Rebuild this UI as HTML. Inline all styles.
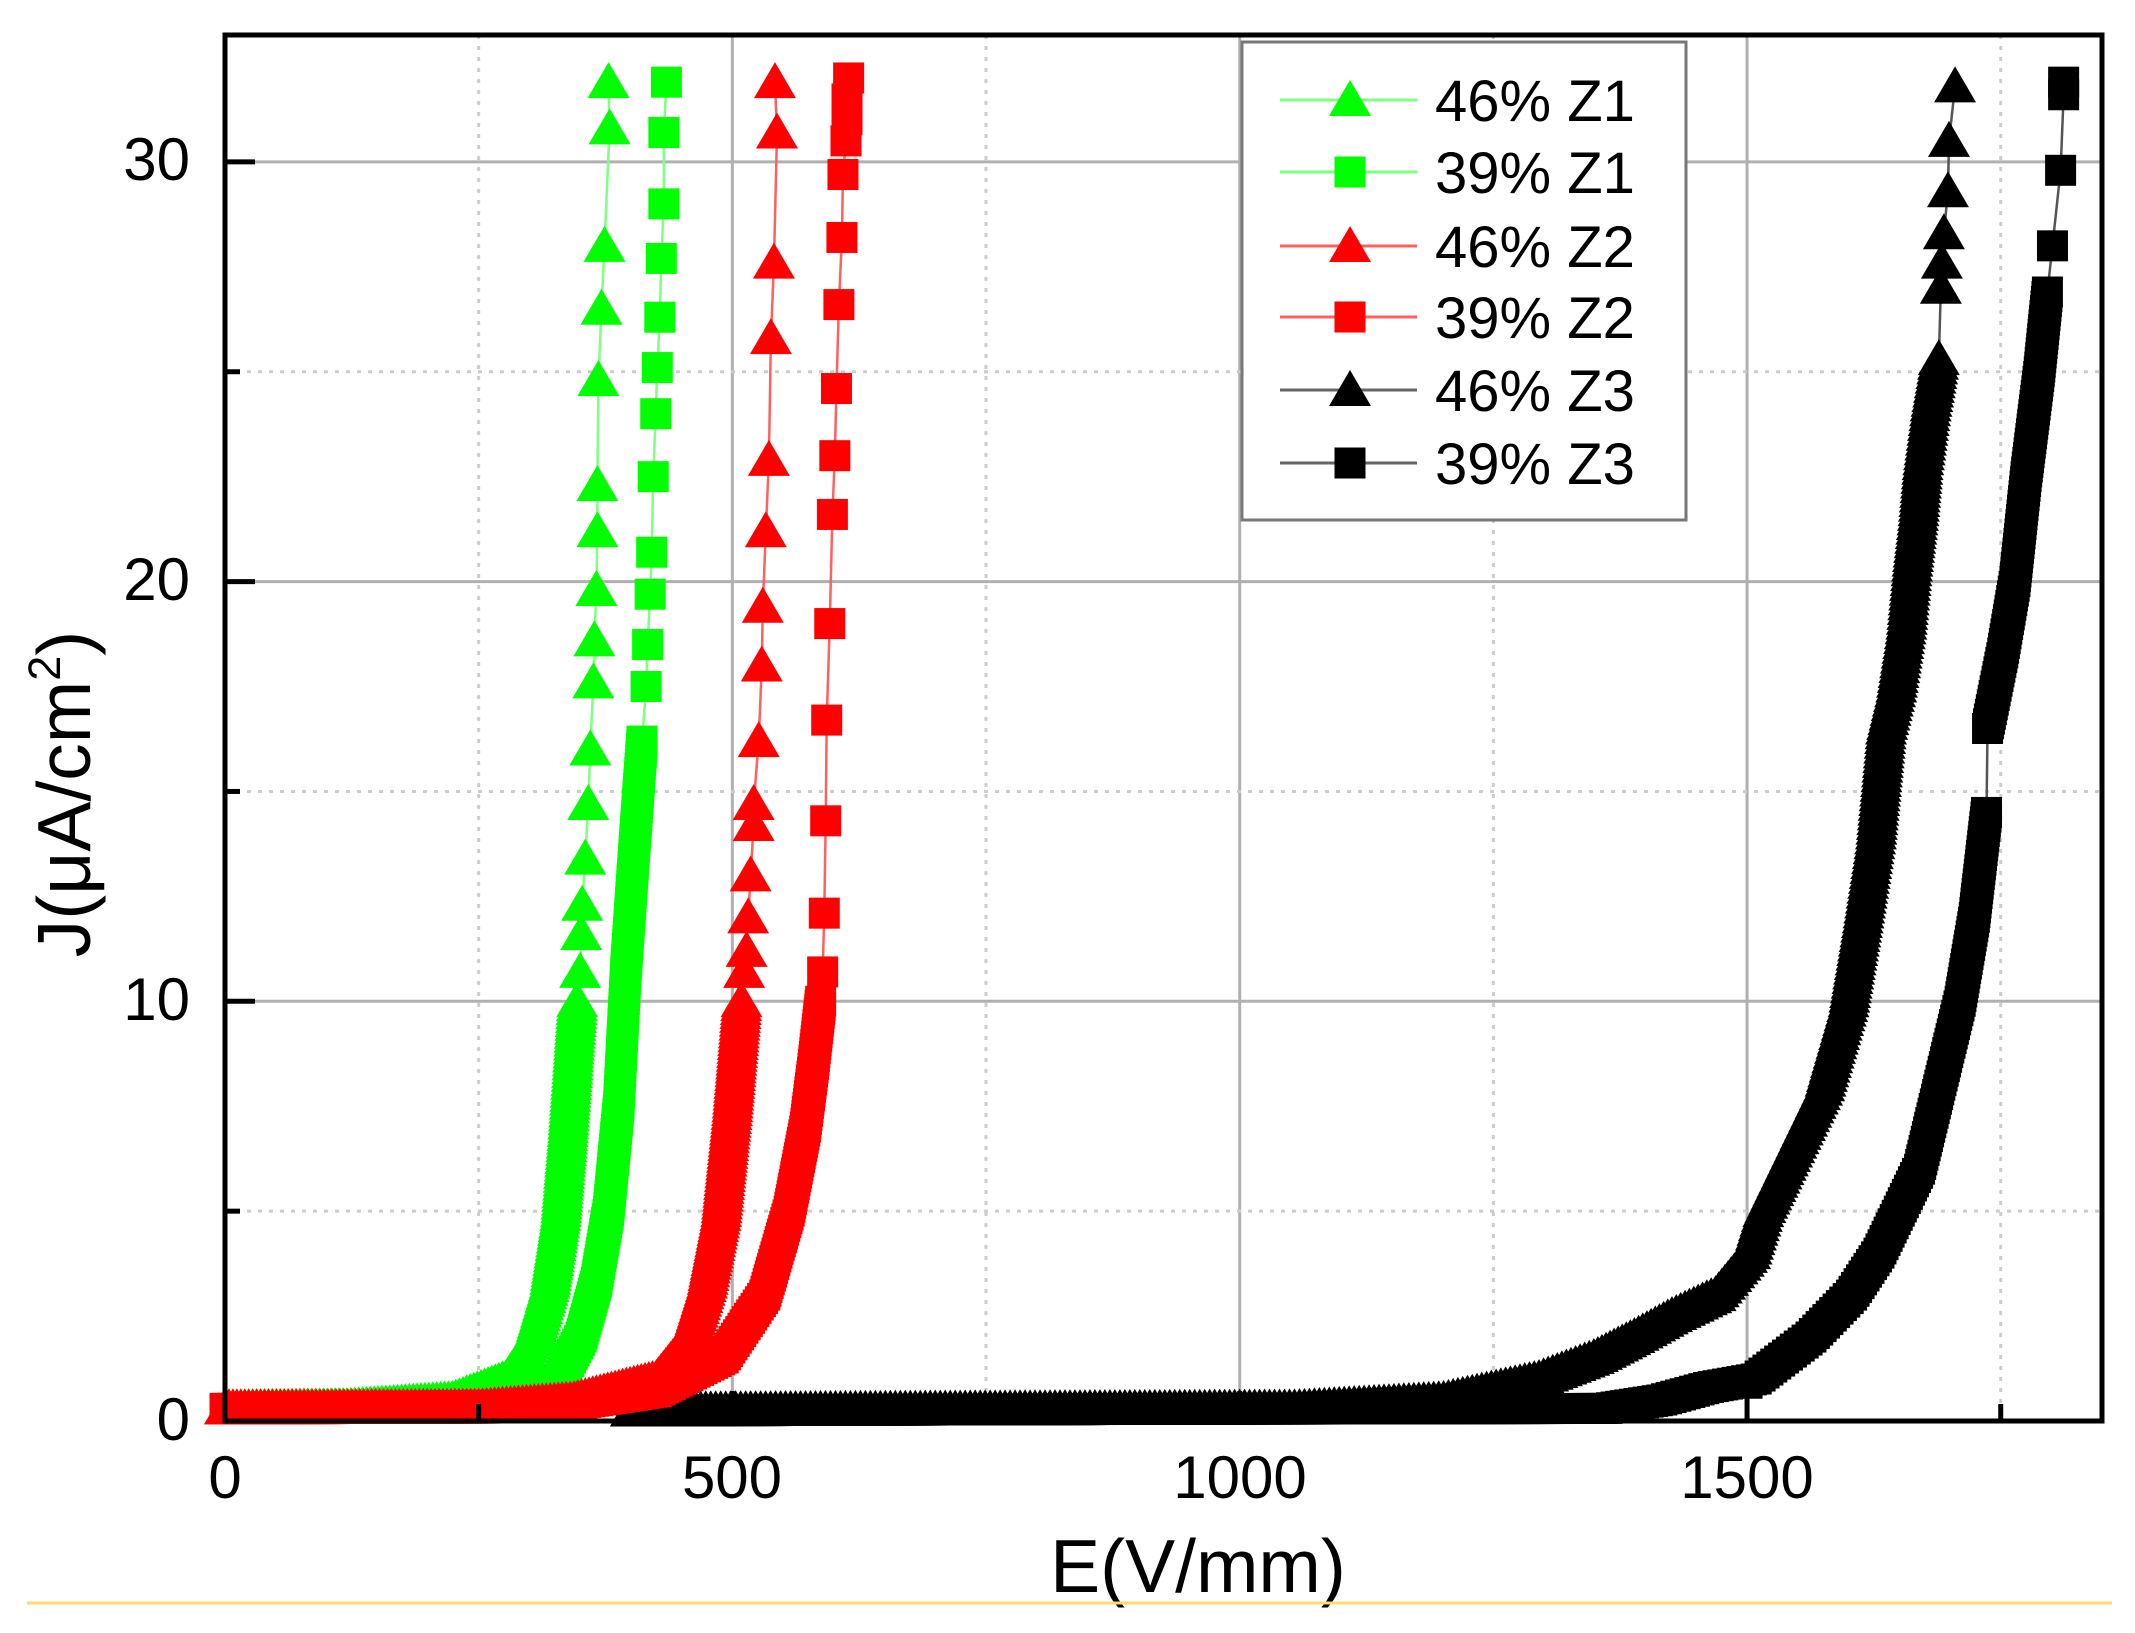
<!DOCTYPE html>
<html><head><meta charset="utf-8"><style>
html,body{margin:0;padding:0;background:#fff;}
svg{display:block;}
text{font-family:"Liberation Sans",Arial,sans-serif;fill:#000;}
</style></head><body>
<svg id="s" width="2135" height="1633" viewBox="0 0 2135 1633" xmlns="http://www.w3.org/2000/svg">
<rect width="2135" height="1633" fill="#fff"/>
<g id="grid"></g>
<g id="data"></g>
<g id="axes"></g>
<g id="legend">
<rect x="1242" y="42" width="444" height="478" fill="#fff" stroke="#777" stroke-width="3"/>
</g>
<g font-size="60">
<text x="190" y="180" text-anchor="end">30</text>
<text x="190" y="600" text-anchor="end">20</text>
<text x="190" y="1020" text-anchor="end">10</text>
<text x="190" y="1440" text-anchor="end">0</text>
<text x="225" y="1498" text-anchor="middle">0</text>
<text x="732" y="1498" text-anchor="middle">500</text>
<text x="1240" y="1498" text-anchor="middle">1000</text>
<text x="1747" y="1498" text-anchor="middle">1500</text>
</g>
<text x="1198" y="1592" font-size="75" text-anchor="middle">E(V/mm)</text>
<text transform="translate(90,794) rotate(-90)" font-size="75" text-anchor="middle">J(μA/cm<tspan font-size="45" dy="-30">2</tspan><tspan dy="30">)</tspan></text>
<line x1="27" y1="1603" x2="2112" y2="1603" stroke="#ffdd66" stroke-width="3"/>
</svg>
<script>
const NS="http://www.w3.org/2000/svg";
const X=v=>225+1.0147*v, Y=j=>1421-41.97*j;
function el(p,t,a){const e=document.createElementNS(NS,t);for(const k in a)e.setAttribute(k,a[k]);p.appendChild(e);return e;}
const g=document.getElementById('grid');
[500,1000,1500].forEach(v=>el(g,'line',{x1:X(v),y1:35,x2:X(v),y2:1421,stroke:'#b0b0b0','stroke-width':3}));
[10,20,30].forEach(j=>el(g,'line',{x1:225,y1:Y(j),x2:2102,y2:Y(j),stroke:'#b0b0b0','stroke-width':3}));
[250,750,1250,1750].forEach(v=>el(g,'line',{x1:X(v),y1:35,x2:X(v),y2:1421,stroke:'#ccc','stroke-width':3,'stroke-dasharray':'4 7'}));
[5,15,25].forEach(j=>el(g,'line',{x1:225,y1:Y(j),x2:2102,y2:Y(j),stroke:'#ccc','stroke-width':3,'stroke-dasharray':'4 7'}));
const ax=document.getElementById('axes');
el(ax,'rect',{x:225,y:35,width:1877,height:1386,fill:'none',stroke:'#000','stroke-width':5});
[10,20,30].forEach(j=>el(ax,'line',{x1:225,y1:Y(j),x2:255,y2:Y(j),stroke:'#000','stroke-width':5}));
[5,15,25].forEach(j=>el(ax,'line',{x1:225,y1:Y(j),x2:240,y2:Y(j),stroke:'#000','stroke-width':5}));
[500,1000,1500].forEach(v=>el(ax,'line',{x1:X(v),y1:1421,x2:X(v),y2:1391,stroke:'#000','stroke-width':5}));
[250,750,1250,1750].forEach(v=>el(ax,'line',{x1:X(v),y1:1421,x2:X(v),y2:1404,stroke:'#000','stroke-width':5}));

function tri(p,cx,cy,c){el(p,'polygon',{points:`${cx},${cy-20} ${cx-21},${cy+16} ${cx+21},${cy+16}`,fill:c});}
function sq(p,cx,cy,c){el(p,'rect',{x:cx-15.5,y:cy-15.5,width:31,height:31,fill:c});}
const D=document.getElementById('data');
function series(o){
  const pts=[];
  o.dense.forEach(seg=>{
    const px=seg.map(([v,j])=>[X(v),Y(j)]);
    for(let i=0;i<px.length-1;i++){
      const [x1,y1]=px[i],[x2,y2]=px[i+1];const L=Math.hypot(x2-x1,y2-y1);const n=Math.max(1,Math.ceil(L/o.step));
      for(let k=0;k<n;k++){pts.push([x1+(x2-x1)*k/n,y1+(y2-y1)*k/n]);}
    }
    pts.push(px[px.length-1]);
  });
  o.sparse.forEach(([v,j])=>pts.push([X(v),Y(j)]));
  const sorted=pts.slice().sort((a,b)=>b[1]-a[1]);
  el(D,'polyline',{points:sorted.map(p=>p.join(',')).join(' '),fill:'none',stroke:o.lc,'stroke-width':2.5});
  pts.forEach(([x,y])=>o.m(D,x,y,o.c));
}
series({m:tri,c:'#000',lc:'#555',step:5,
dense:[[[400,0.25],[1054,0.3],[1201,0.5],[1295,1],[1349,1.5],[1389,2],[1426,2.5],[1469,3],[1503,4],[1516,5],[1536,6],[1576,8],[1600,10],[1614,12],[1627,14],[1637,16.5],[1647,17.5],[1657,19],[1663,20.5],[1669,21.7],[1673,22.8],[1681,24.2],[1689,25.3]]],
sparse:[[1691,27],[1692,27.6],[1694,28.3],[1698,29.3],[1699,30.5],[1705,31.8]]});
series({m:sq,c:'#000',lc:'#555',step:5,
dense:[[[420,0.25],[1362,0.3],[1416,0.5],[1462,0.8],[1509,1],[1563,2],[1603,3],[1630,4],[1650,5],[1670,6],[1690,8],[1710,10],[1724,12],[1736,14.5]],
[[1737,16.5],[1752,18.3],[1764,20],[1775,22.5],[1788,25],[1796,26.9]]],
sparse:[[1500,0.9],[1801,28],[1809,29.8],[1812,31.6],[1812,31.9]]});
series({m:tri,c:'#00ff00',lc:'#80ff80',step:4,
dense:[[[0,0.3],[120,0.33],[224,0.5],[277,1],[304,2],[320,3.3],[331,5],[338,7],[347,10]]],
sparse:[[350,10.7],[351,11.6],[352,12.3],[355,13.4],[358,14.7],[360,16],[363,17.6],[364,18.6],[366,19.8],[367,21.2],[367,22.3],[368,24.8],[371,26.5],[374,28],[379,30.8],[378,31.9]]});
series({m:sq,c:'#00ff00',lc:'#80ff80',step:4,
dense:[[[0,0.3],[250,0.35],[300,0.5],[330,1],[351,2],[366,3.3],[378,5],[388,7.5],[395,10.7],[403,13.5],[411,16.2]]],
sparse:[[415,17.5],[416.5,18.5],[419,19.7],[420.5,20.7],[422,22.5],[424.5,24],[426,25.1],[428.5,26.3],[430,27.7],[432.5,29],[432.5,30.7],[435,31.9]]});
series({m:tri,c:'#ff0000',lc:'#ff6060',step:4,
dense:[[[0,0.3],[250,0.32],[344,0.5],[425,1],[458,2],[475,3.3],[489,5],[500,7.5],[509,10]]],
sparse:[[511.6,10.7],[514,11.2],[515.6,12],[518,13],[521,14.2],[521,14.7],[526,16.2],[529,18],[530,19.4],[533,21.2],[536,22.9],[538,25.8],[541,27.6],[544,30.7],[542,31.9]]});
series({m:sq,c:'#ff0000',lc:'#ff6060',step:4,
dense:[[[0,0.3],[344,0.4],[425,0.7],[491,1.5],[532,3],[556,5],[572,7],[580,8.5],[587,10]]],
sparse:[[589,10.7],[590.6,12.1],[592,14.3],[593,16.7],[596,19],[598.6,21.6],[601,23],[602.6,24.6],[605,26.6],[608,28.2],[609,29.7],[612,30.5],[613,31],[613,31.5],[614.6,32]]});
const Lg=document.getElementById('legend');
const rows=[[tri,'#00ff00','#80ff80','46% Z1'],[sq,'#00ff00','#80ff80','39% Z1'],[tri,'#ff0000','#ff6060','46% Z2'],[sq,'#ff0000','#ff6060','39% Z2'],[tri,'#000','#666','46% Z3'],[sq,'#000','#666','39% Z3']];
const ys=[100,172,246,317,390,463];
rows.forEach((r,i)=>{const y=ys[i];
 el(Lg,'line',{x1:1280,y1:y,x2:1417,y2:y,stroke:r[2],'stroke-width':3});
 r[0](Lg,1350,y,r[1]);
 const t=el(Lg,'text',{x:1435,y:y+21,'font-size':58});t.textContent=r[3];
});
</script>
</body></html>
